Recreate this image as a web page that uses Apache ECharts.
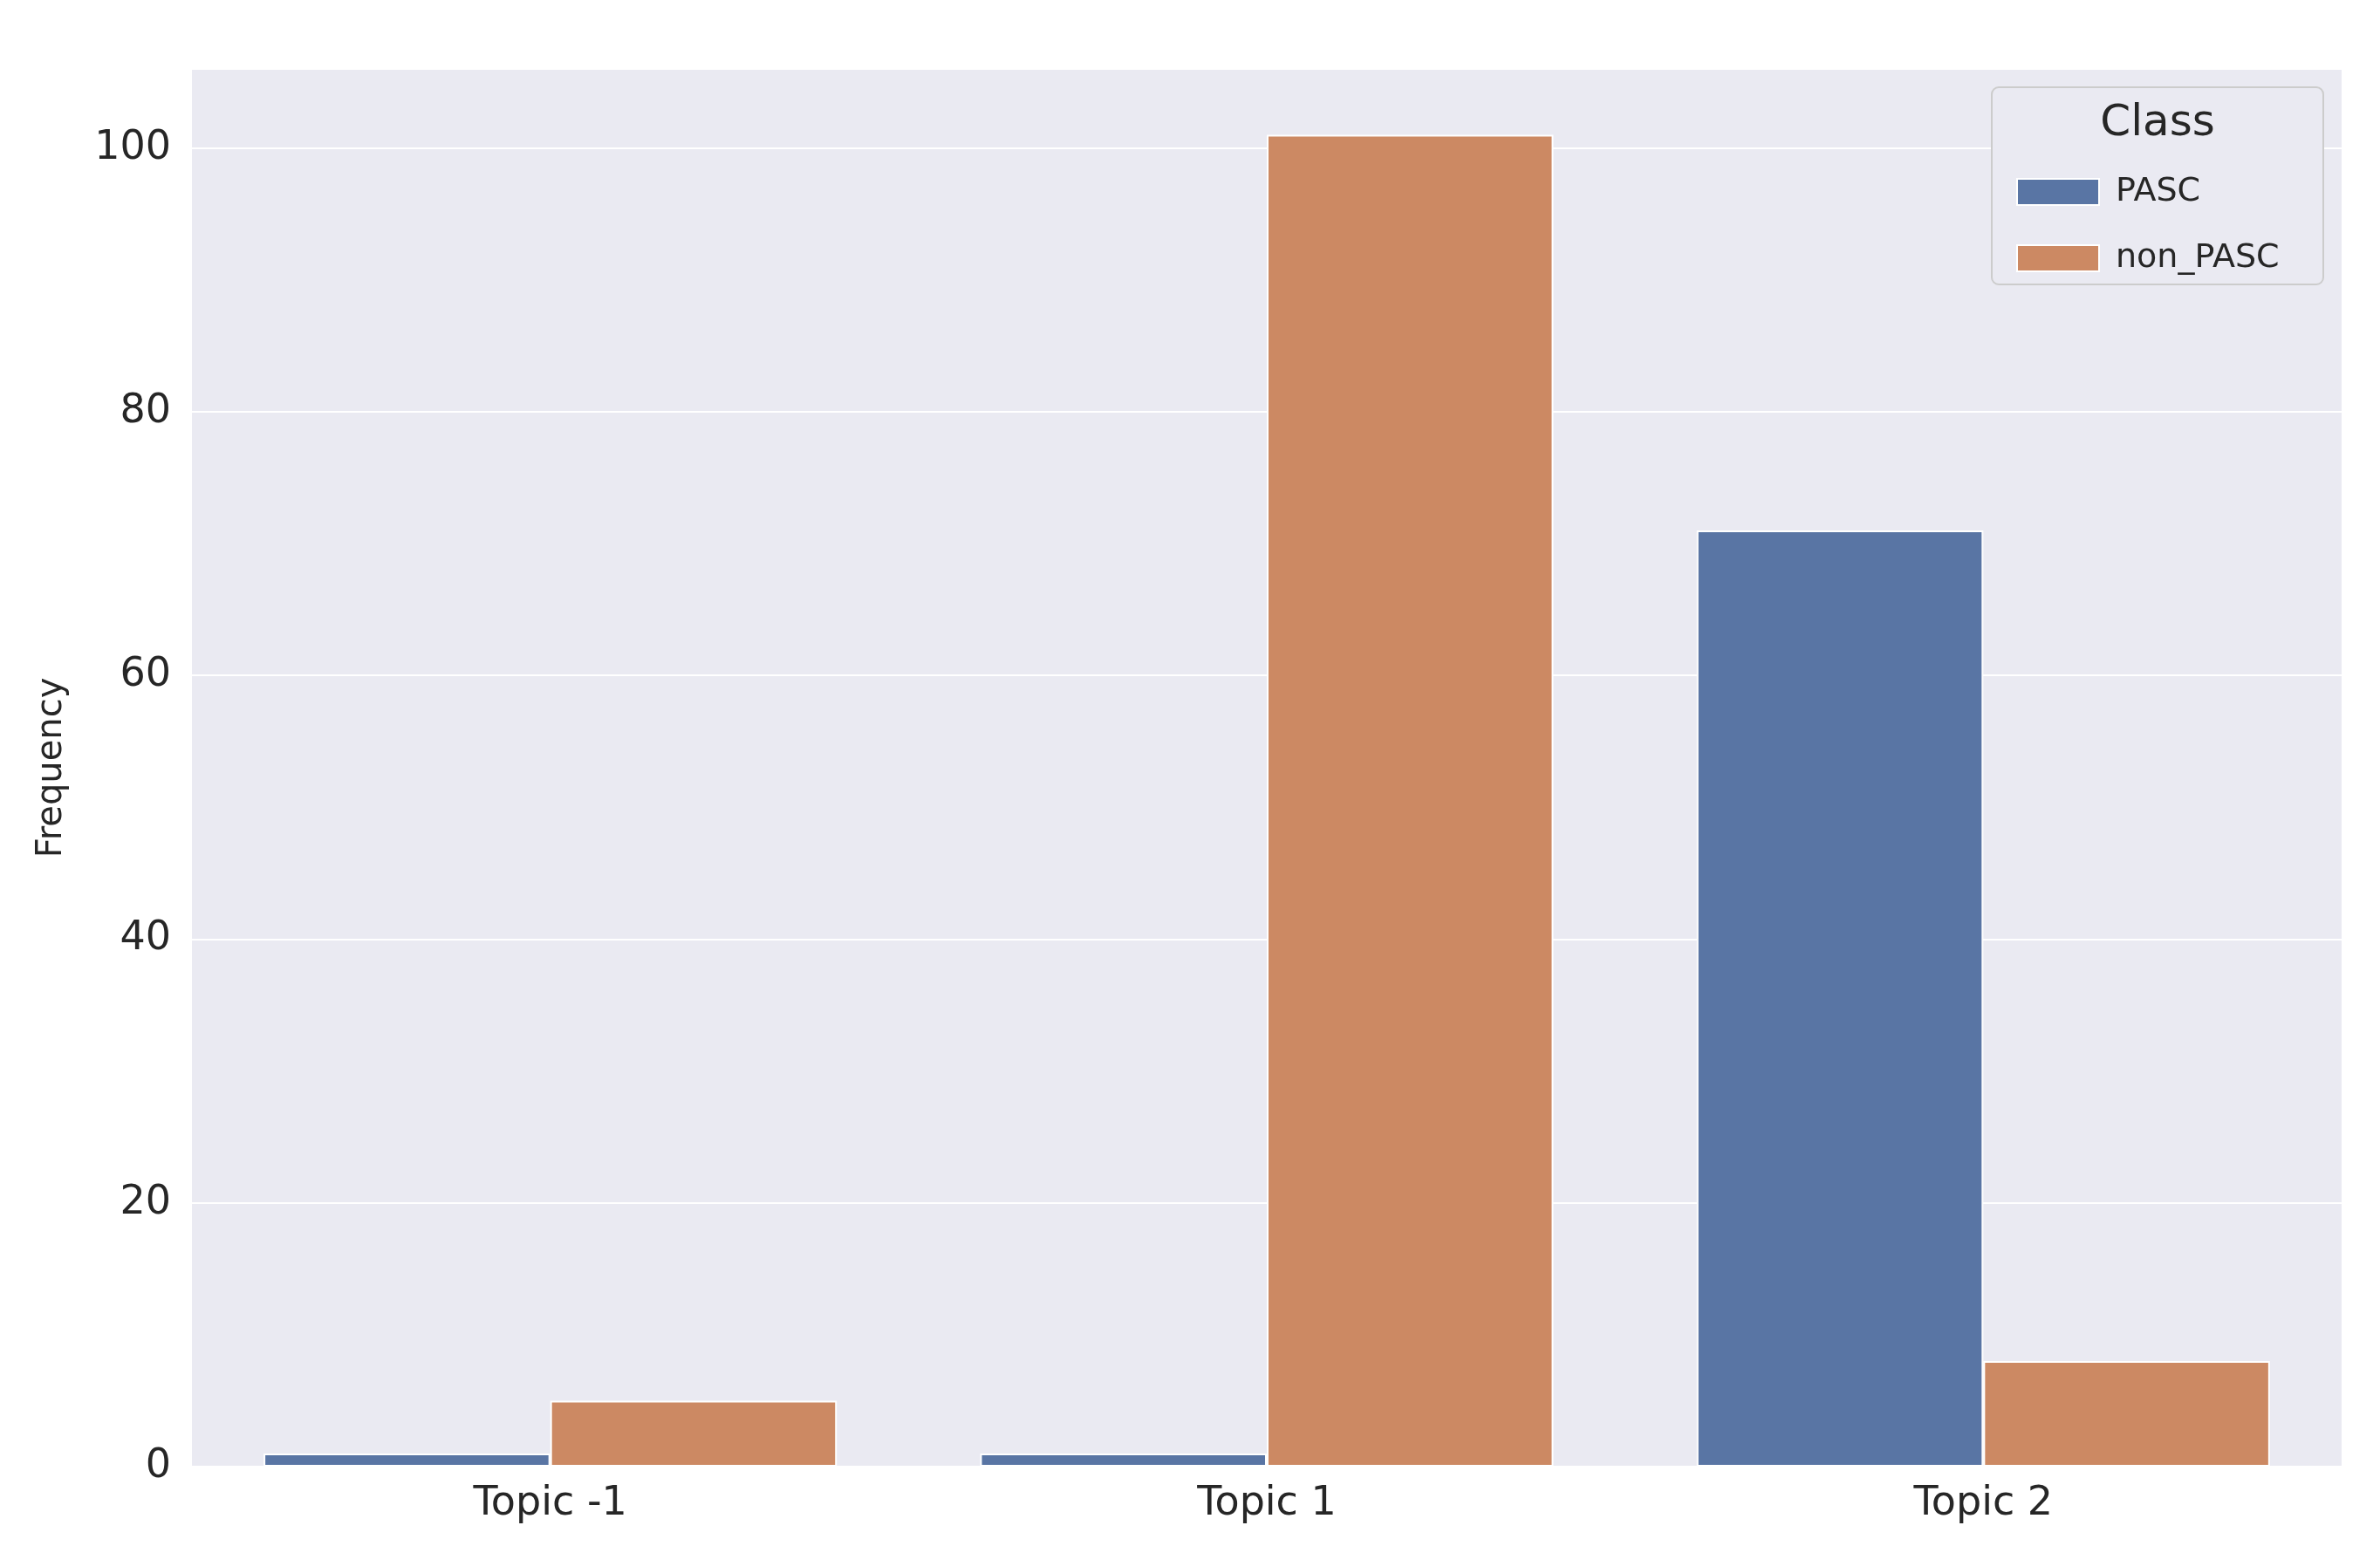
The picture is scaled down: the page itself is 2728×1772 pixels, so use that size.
<!doctype html>
<html>
<head>
<meta charset="UTF-8">
<title>Topic frequency</title>
<script src="https://cdn.jsdelivr.net/npm/echarts@6/dist/echarts.min.js"></script>
<style>
html, body { margin: 0; padding: 0; background: #fff; }
#chart { width: 2728px; height: 1772px; }
</style>
</head>
<body>
<div id="chart"></div>
<script>
var categories = ['Topic -1', 'Topic 1', 'Topic 2'];
var pascData = [1, 1, 71];
var nonPascData = [5, 101, 8];

var chart = echarts.init(document.getElementById('chart'));
var font = 'DejaVu Sans';

var option = {
	backgroundColor: '#ffffff',
	textStyle: { fontFamily: font },
	grid: { left: 220, right: 44, top: 79, bottom: 91, backgroundColor: '#eaeaf2', show: true, borderWidth: 0 },
	graphic: [{
		type: 'rect',
		shape: { x: 2283, y: 100, width: 380, height: 226, r: 8 },
		style: { fill: '#eaeaf2', stroke: '#cccccc', lineWidth: 2 },
		z: 10
	}, {
		type: 'text',
		x: 2473, y: 142,
		style: { text: 'Class', font: '50px "DejaVu Sans"', fill: '#262626', align: 'center', verticalAlign: 'middle' },
		z: 11
	}],
	legend: {
		orient: 'vertical',
		left: 2306, top: 196,
		itemWidth: 94, itemHeight: 30, itemGap: 38,
		icon: 'rect',
		textStyle: { fontSize: 38, color: '#262626', padding: [0, 0, 0, 14] },
		data: ['PASC', 'non_PASC'],
		z: 12
	},
	xAxis: {
		type: 'category',
		data: categories,
		axisLine: { show: false },
		axisTick: { show: false },
		axisLabel: { fontSize: 46, color: '#262626', margin: 20 }
	},
	yAxis: {
		type: 'value',
		name: 'Frequency',
		nameLocation: 'middle',
		nameGap: 140,
		nameTextStyle: { fontSize: 40, color: '#262626' },
		min: 0, max: 106, interval: 20,
		axisLabel: { fontSize: 46, color: '#262626', margin: 24, showMaxLabel: false },
		splitLine: { lineStyle: { color: '#ffffff', width: 2 } },
		axisLine: { show: false },
		axisTick: { show: false }
	},
	series: [{
		name: 'PASC',
		type: 'bar',
		data: pascData,
		barGap: '0%',
		barCategoryGap: '20%',
		itemStyle: { color: '#5975a4', borderColor: '#ffffff', borderWidth: 2 }
	}, {
		name: 'non_PASC',
		type: 'bar',
		data: nonPascData,
		itemStyle: { color: '#cc8963', borderColor: '#ffffff', borderWidth: 2 }
	}]
};

chart.setOption(option);
</script>
</body>
</html>
